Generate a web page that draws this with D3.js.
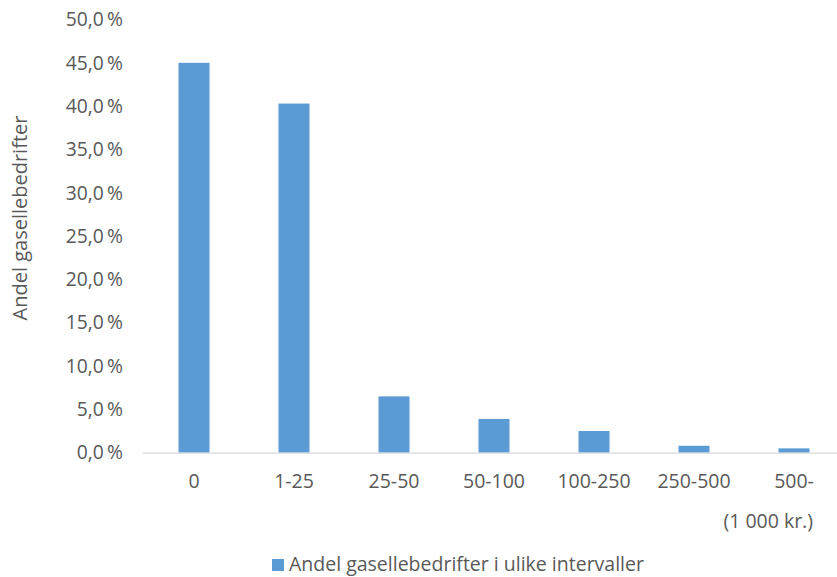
<!DOCTYPE html>
<html>
<head>
<meta charset="utf-8">
<script src="https://cdn.jsdelivr.net/npm/d3@7"></script>
<style>
  html, body { margin: 0; padding: 0; background: #fff; }
  svg { display: block; }
  text { font-family: "Open Sans", "Noto Sans", sans-serif; fill: #595959; }
</style>
</head>
<body>
<svg id="chart" width="837" height="577"></svg>
<script>
// Intervals of turnover (1 000 kr.) and share of gazelle companies in each
const categories = ["0", "1-25", "25-50", "50-100", "100-250", "250-500", "500-"];
const shares = [45.0, 40.3, 6.5, 3.9, 2.5, 0.8, 0.5];
const yTicks = [0, 5, 10, 15, 20, 25, 30, 35, 40, 45, 50];
const seriesName = "Andel gasellebedrifter i ulike intervaller";
const yTitle = "Andel gasellebedrifter";
const unitLabel = "(1 000 kr.)";

const svg = d3.select("#chart");
const barColor = "#5b9bd5";

const x = d3.scaleBand()
  .domain(categories)
  .range([144, 844])
  .paddingInner(0.69)
  .paddingOuter(0.345);

const y = d3.scaleLinear()
  .domain([0, 50])
  .range([452.7, 19.5]);

const fmt = v => d3.format(".1f")(v).replace(".", ",") + "\u2009%";

// Y tick labels
svg.append("g")
  .selectAll("text")
  .data(yTicks)
  .join("text")
  .attr("x", 123)
  .attr("y", d => y(d))
  .attr("dy", "0.35em")
  .attr("text-anchor", "end")
  .style("font-size", "19.3px")
  .text(fmt);

// Bars
svg.append("g")
  .selectAll("rect")
  .data(categories.map((c, i) => ({ c, v: shares[i] })))
  .join("rect")
  .attr("x", d => x(d.c))
  .attr("y", d => y(d.v))
  .attr("width", x.bandwidth())
  .attr("height", d => y(0) - y(d.v))
  .attr("fill", barColor);

// Baseline
svg.append("line")
  .attr("x1", 143).attr("x2", 837)
  .attr("y1", y(0) + 0.5).attr("y2", y(0) + 0.5)
  .attr("stroke", "#d9d9d9")
  .attr("stroke-width", 1.2);

// X category labels
svg.append("g")
  .selectAll("text")
  .data(categories)
  .join("text")
  .attr("x", d => x(d) + x.bandwidth() / 2)
  .attr("y", 481)
  .attr("dy", "0.35em")
  .attr("text-anchor", "middle")
  .style("font-size", "19.5px")
  .text(d => d);

// Unit label under the axis
svg.append("text")
  .attr("x", 813)
  .attr("y", 521)
  .attr("dy", "0.35em")
  .attr("text-anchor", "end")
  .style("font-size", "19.5px")
  .text(unitLabel);

// Y axis title
svg.append("text")
  .attr("transform", "translate(20,218) rotate(-90)")
  .attr("text-anchor", "middle")
  .attr("dy", "0.35em")
  .style("font-size", "20px")
  .text(yTitle);

// Legend
const legend = svg.append("g");
legend.append("rect")
  .attr("x", 272).attr("y", 559)
  .attr("width", 12).attr("height", 12)
  .attr("fill", barColor);
legend.append("text")
  .attr("x", 289).attr("y", 564)
  .attr("dy", "0.35em")
  .style("font-size", "19.5px")
  .text(seriesName);
</script>
</body>
</html>
